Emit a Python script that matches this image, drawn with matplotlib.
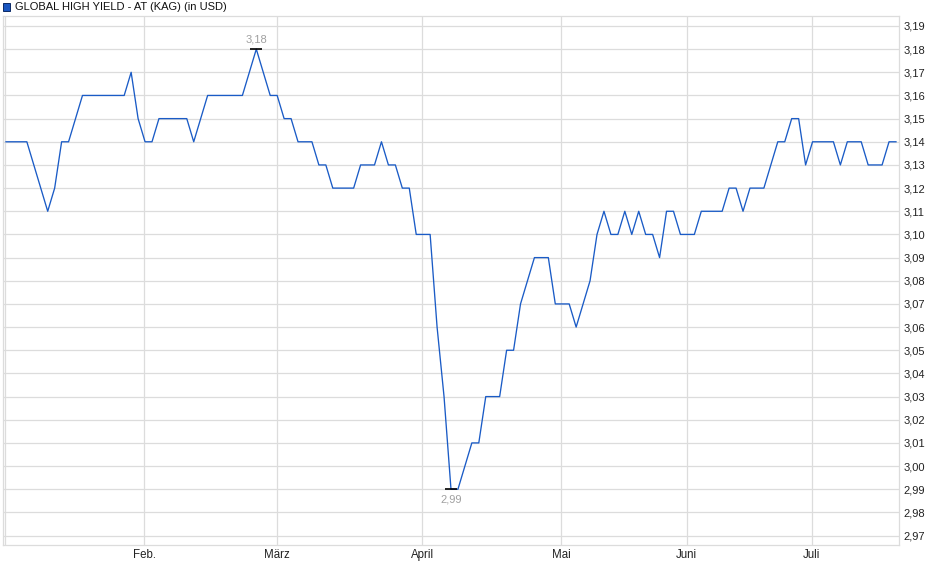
import numpy as np
import matplotlib
matplotlib.use("Agg")
import matplotlib.pyplot as plt
from matplotlib.patches import Rectangle
from matplotlib.ticker import FuncFormatter

plt.rcParams['font.family'] = ['Liberation Sans', 'DejaVu Sans']

title = "GLOBAL HIGH YIELD - AT (KAG) (in USD)"

# one price per trading day, mid January to end of July
prices = [
    3.14, 3.14, 3.14, 3.14, 3.13, 3.12, 3.11, 3.12, 3.14, 3.14,
    3.15, 3.16, 3.16, 3.16, 3.16, 3.16, 3.16, 3.16, 3.17, 3.15,
    3.14, 3.14, 3.15, 3.15, 3.15, 3.15, 3.15, 3.14, 3.15, 3.16,
    3.16, 3.16, 3.16, 3.16, 3.16, 3.17, 3.18, 3.17, 3.16, 3.16,
    3.15, 3.15, 3.14, 3.14, 3.14, 3.13, 3.13, 3.12, 3.12, 3.12,
    3.12, 3.13, 3.13, 3.13, 3.14, 3.13, 3.13, 3.12, 3.12, 3.10,
    3.10, 3.10, 3.06, 3.03, 2.99, 2.99, 3.00, 3.01, 3.01, 3.03,
    3.03, 3.03, 3.05, 3.05, 3.07, 3.08, 3.09, 3.09, 3.09, 3.07,
    3.07, 3.07, 3.06, 3.07, 3.08, 3.10, 3.11, 3.10, 3.10, 3.11,
    3.10, 3.11, 3.10, 3.10, 3.09, 3.11, 3.11, 3.10, 3.10, 3.10,
    3.11, 3.11, 3.11, 3.11, 3.12, 3.12, 3.11, 3.12, 3.12, 3.12,
    3.13, 3.14, 3.14, 3.15, 3.15, 3.13, 3.14, 3.14, 3.14, 3.14,
    3.13, 3.14, 3.14, 3.14, 3.13, 3.13, 3.13, 3.14, 3.14,
]

# month starts, in trading-day index units
month_pos = [19.89, 38.93, 59.87, 79.86, 97.90, 115.88]
month_labels = ["Feb.", "März", "April", "Mai", "Juni", "Juli"]

y_ticks = [2.97, 2.98, 2.99, 3.00, 3.01, 3.02, 3.03, 3.04, 3.05, 3.06, 3.07,
           3.08, 3.09, 3.10, 3.11, 3.12, 3.13, 3.14, 3.15, 3.16, 3.17, 3.18, 3.19]

line_col = "#1a5bc6"
grid_col = "#dcdcdc"

W, H = 940, 579
fig = plt.figure(figsize=(W / 100, H / 100), dpi=100)
ax = fig.add_axes([3 / W, 1 - 545.3 / H, 895.7 / W, 529.3 / H])

x = np.arange(len(prices))
ax.plot(x, prices, color=line_col, lw=0.95, zorder=3)

ax.set_xlim(-0.43, 128.39)
ax.set_ylim(2.9658, 3.1943)

ax.set_yticks(y_ticks)
ax.yaxis.set_major_formatter(FuncFormatter(lambda v, p: f"{v:.2f}".replace(".", ",")))
ax.yaxis.tick_right()
ax.set_xticks(month_pos, labels=month_labels)
ax.tick_params(axis='y', length=0, pad=3.3, labelsize=8, labelcolor="#222222")
ax.tick_params(axis='x', length=0, pad=2.5, labelsize=8.3, labelcolor="#222222")

ax.grid(True, color=grid_col, lw=0.9, zorder=0)
ax.axvline(-0.15, color=grid_col, lw=0.9, zorder=0)
for s in ax.spines.values():
    s.set_color(grid_col)
    s.set_linewidth(0.9)

# high / low markers
i_hi = int(np.argmax(prices))
i_lo = int(np.argmin(prices))
for i, dy, va in [(i_hi, 10, "center"), (i_lo, -10.5, "center")]:
    ax.plot(i, prices[i], marker="_", ms=8, mew=1.2, color="black", zorder=4)
    ax.annotate(f"{prices[i]:.2f}".replace(".", ","), (i, prices[i]),
                xytext=(0, dy * 0.72), textcoords="offset points",
                ha="center", va=va, fontsize=8, color="#a0a0a0")

# header
fig.patches.append(Rectangle((3 / W, 1 - 10.5 / H), 7 / W, 7.5 / H,
                             transform=fig.transFigure, facecolor="#1a56c0",
                             edgecolor="#0b2a66", lw=0.7))
fig.text(15 / W, 1 - 6.5 / H, title, ha="left", va="center", fontsize=8,
         color="#111111")

fig.savefig("out.png", dpi=100)
